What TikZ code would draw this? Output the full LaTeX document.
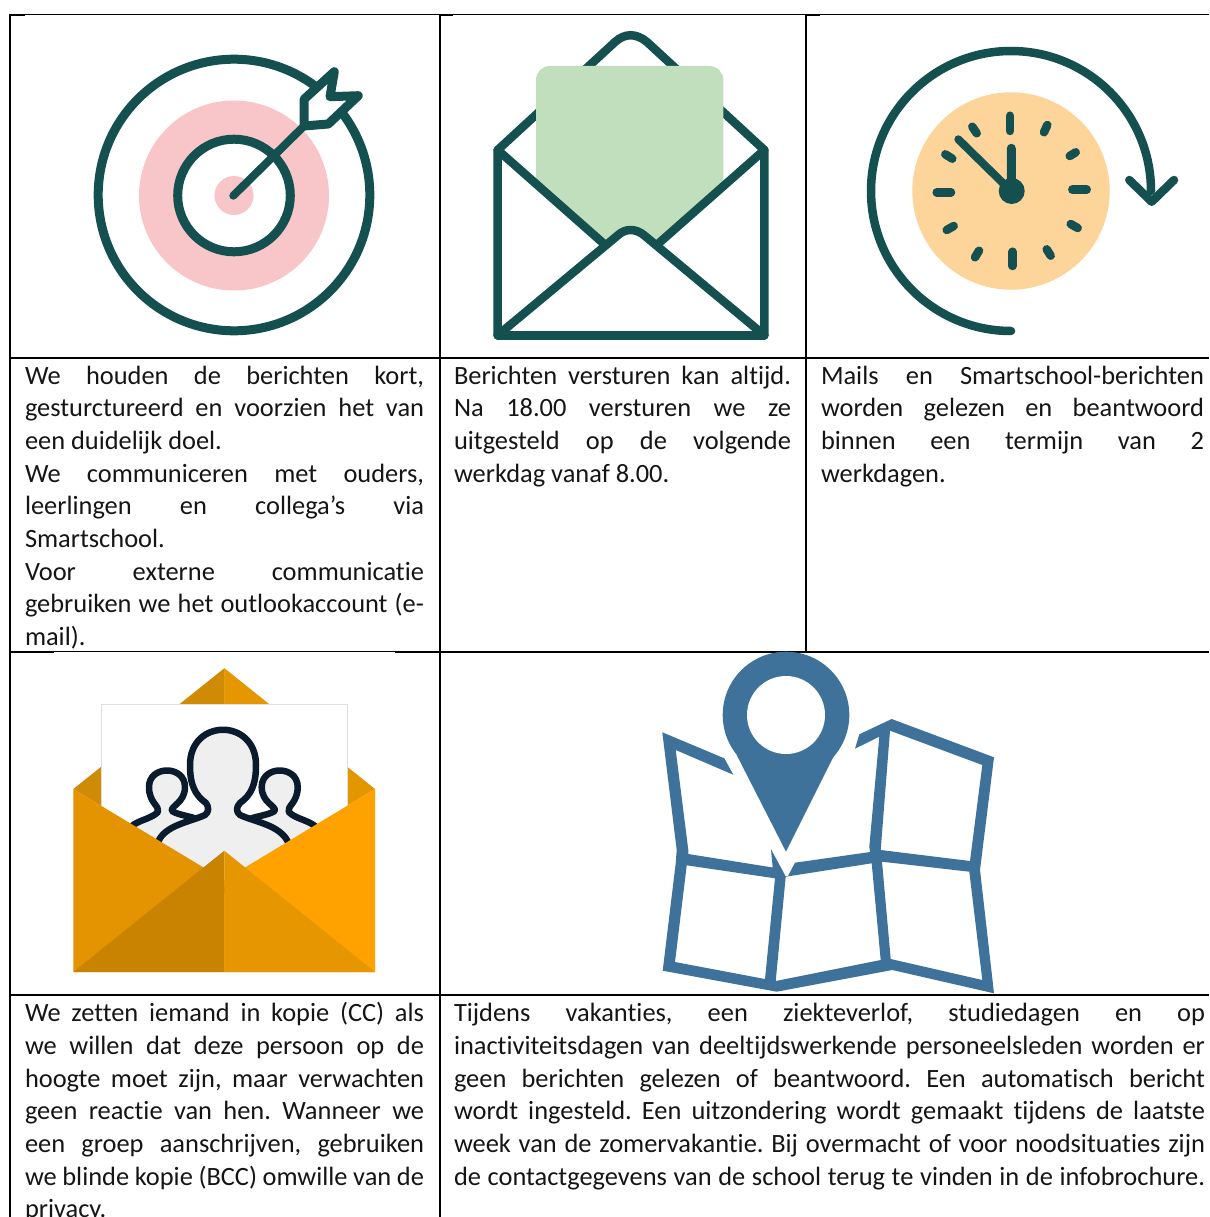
\documentclass[tikz,border=0pt]{standalone}
\usepackage{fontspec}
\setmainfont{Carlito}[Ligatures={NoCommon}]
\definecolor{teal1}{HTML}{14504F}
\definecolor{pinkf}{HTML}{F8C6C8}
\definecolor{greenf}{HTML}{C1DFBC}
\definecolor{orangef}{HTML}{FDD59B}
\definecolor{mapblue}{HTML}{3F729B}
\definecolor{ink}{HTML}{151515}
\definecolor{navy}{HTML}{0B1B2E}
\definecolor{faceg}{HTML}{EFEFF0}
\definecolor{envA}{HTML}{E39400}
\definecolor{envB}{HTML}{FFA200}
\definecolor{envC}{HTML}{C98300}
\definecolor{envD}{HTML}{E69700}
\definecolor{backL}{HTML}{CF8A06}
\definecolor{backR}{HTML}{E29600}
\tikzset{
 grid/.style={line width=2pt,black},
 thingrid/.style={line width=1.2pt,black},
 icon/.style={teal1,line width=8.5pt,line cap=round,line join=round},
 tick/.style={teal1,line width=8.5pt,line cap=round},
 person/.style={draw=navy,fill=faceg,line width=6.5pt,line join=round},
 cell/.style={anchor=north west,inner sep=0pt,outer sep=0pt,text=ink},
}
\newcommand{\jl}[2]{\hbox to #1{\strut #2}}
\newcommand{\tl}[1]{\hbox{\strut #1}}
\newcommand{\cellfont}{\fontsize{26.4}{32.7}\selectfont\frenchspacing\hbadness=10000\hfuzz=20pt\baselineskip=32.7pt\lineskip=0pt\def\strut{\vrule width 0pt height 24pt depth 8.7pt}}
\begin{document}
\begin{tikzpicture}[x=1pt,y=-1pt]
\useasboundingbox (0,0) rectangle (1209,1217);
\fill[white] (0,0) rectangle (1209,1217);
% grid
\draw[thingrid] (10,14.7) -- (1209,14.7);
\draw[grid] (10,15) -- (25,15) (440,15) -- (453,15) (806,15) -- (820,15);
\draw[grid] (10,357.5) -- (1209,357.5);
\draw[thingrid] (54,651.7) -- (395,651.7);
\draw[grid] (10,652) -- (54,652) (395,652) -- (1209,652);
\draw[grid] (10,994.7) -- (1209,994.7);
\draw[grid] (10.3,14) -- (10.3,1217);
\draw[grid] (440,14) -- (440,1217);
\draw[grid] (806,14) -- (806,652);
% target
\fill[pinkf] (234,195.5) circle (95);
\fill[white] (234,195.5) circle (56);
\fill[pinkf] (234,195.5) circle (19.5);
\draw[icon,line width=9pt] (234,195) circle (135.8);
\draw[icon,line width=9pt] (234,195.5) circle (56.3);
\draw[icon,line width=8pt] (233.3,195.7) -- (304,126);
\draw[icon,line width=9pt,fill=white] (304,126) -- (304,99.3) -- (334.3,71.7) -- (330,96.7) -- (358.3,95.7) -- (328.3,124) -- cycle;
% open envelope
\draw[icon] (497.7,150) -- (615,42) .. controls (625,33) and (636,33) .. (647,42) -- (764.3,150);
\fill[greenf] (536,184) -- (536,80) .. controls (536,72) and (542,66) .. (550,66) -- (709,66) .. controls (717,66) and (723.3,72) .. (723.3,80) -- (723.3,182) -- (657,240) -- (630,232) -- (605,242) -- cycle;
\draw[icon] (497.7,335.3) -- (497.7,150) -- (603,243);
\draw[icon] (764.3,335.3) -- (764.3,150) -- (659,243);
\draw[icon] (497.7,335.3) -- (764.3,335.3);
\draw[icon] (497.7,335.3) -- (617,236) .. controls (625,228) and (636,228) .. (645,236) -- (764.3,335.3);
% clock
\fill[orangef] (1011,191) circle (98.7);
\draw[icon] (1011,331) arc (90:360:140);
\draw[icon] (1129.3,180) -- (1151.7,201.7) -- (1174,180);
\fill[teal1] (1011.7,191) circle (13);
\draw[icon,line width=9pt] (1011.5,191) -- (1011.3,148.3);
\draw[icon,line width=8pt] (1011,191) -- (958.3,139.3);
\foreach \a/\b/\c/\d in {1010/115.7/1010/131,1012.7/251.7/1012.7/266,1072.3/189.7/1086.7/189.7,936.7/192.3/951/192.3,1047.3/125/1044/132.3,1075.7/152.3/1069.7/156,1070.7/224/1077.7/228,1046.7/249.3/1050.7/255.7,979/250.7/975/257.3,953.7/226/946.7/230,945.3/154.3/952.3/158.7,972.3/126.7/976.7/133.3}
  \draw[tick] (\a,\b) -- (\c,\d);
% orange envelope
\fill[backR] (224.3,668.3) -- (375,789) -- (224.3,880) -- cycle;
\fill[backL] (224.3,668.3) -- (73.3,789) -- (224.3,880) -- cycle;
\fill[envD] (224.3,668.3) -- (270,705) -- (224.3,705) -- cycle;
\fill[white] (101.7,704) rectangle (347.7,900);
\draw[gray!25,line width=0.8pt] (101.7,830) -- (101.7,704) -- (347.7,704) -- (347.7,830);
\begin{scope}
\clip (101.7,704) rectangle (347.7,900);
\draw[person] (128,830) .. controls (135,820) and (150,820) .. (158,812) .. controls (160,806) and (149,803) .. (149,787) .. controls (149,765) and (185,765) .. (185,787) .. controls (185,803) and (170,806) .. (172,811) .. controls (178,815) and (190,816) .. (200,820) -- (200,890) -- (128,890) -- cycle;
\draw[person] (318.7,830) .. controls (311.7,820) and (296.7,820) .. (288.7,812) .. controls (286.7,806) and (297.7,803) .. (297.7,787) .. controls (297.7,765) and (261.7,765) .. (261.7,787) .. controls (261.7,803) and (276.7,806) .. (274.7,811) .. controls (268.7,815) and (256.7,816) .. (246.7,820) -- (246.7,890) -- (318.7,890) -- cycle;
\draw[person] (158,842) .. controls (165,825) and (190,822) .. (205,815) .. controls (209,812) and (209,807) .. (206,803) .. controls (195,795) and (190,785) .. (190,765) .. controls (190,718) and (256,718) .. (256,765) .. controls (256,785) and (251,795) .. (240,803) .. controls (236,807) and (236,812) .. (240,815) .. controls (255,822) and (280,825) .. (288,842) -- (288,890) -- (158,890) -- cycle;
\end{scope}
\fill[envA] (73.3,789) -- (224.3,880) -- (224.3,972) -- (73.3,972) -- cycle;
\fill[envB] (375,789) -- (224.3,880) -- (224.3,972) -- (375,972) -- cycle;
\fill[envC] (224.3,850.7) -- (224.3,972) -- (73.3,972) -- cycle;
\fill[envD] (224.3,850.7) -- (224.3,972) -- (375,972) -- cycle;
% map
\fill[mapblue,even odd rule]
 (662.3,732.3) -- (724.3,758.3) -- (733.3,774.7) -- (675.7,750) -- (688.3,850) -- (688.3,854) -- (772.7,867.5) -- (771,849.3) -- (785.5,876) -- (788,876) -- (795,862.7) -- (870,852) -- (869.3,846.7) -- (879.3,736.7) -- (855,748.7) -- (859.3,734.3) -- (891.7,719) -- (994,757.3) -- (980,870) -- (994,993.3) -- (892.3,970) -- (776.7,991.7) -- (662.7,970.7) -- (675.7,863.3) -- (676.7,850) -- cycle
 (890,730.7) -- (982.3,765) -- (970,861) -- (880.7,850) -- cycle
 (686.7,865.3) -- (775,878.3) -- (765,979) -- (675,962) -- cycle
 (785.7,876.7) -- (871.7,863.3) -- (880.7,960) -- (775.7,981) -- cycle
 (882,861.7) -- (969.3,871.7) -- (982.3,980) -- (890.7,959) -- cycle;
\fill[mapblue] (736.7,755) -- (786,851.7) -- (834.3,755) -- (786,715) -- cycle;
\fill[mapblue] (786,715) circle (63.3);
\fill[white] (786,715) circle (39);
% text
\node[cell] (t1) at (25,360) {\vtop{\cellfont
 \jl{399pt}{We houden de berichten kort,}
 \jl{399pt}{gesturctureerd en voorzien het van}
 \tl{een duidelijk doel.}
 \jl{399pt}{We communiceren met ouders,}
 \jl{399pt}{leerlingen en collega’s via}
 \tl{Smartschool.}
 \jl{399pt}{Voor externe communicatie}
 \jl{399pt}{gebruiken we het outlookaccount (e-}
 \tl{mail).}}};
\node[cell] (t2) at (454,360) {\vtop{\cellfont
 \jl{337pt}{Berichten versturen kan altijd.}
 \jl{337pt}{Na 18.00 versturen we ze}
 \jl{337pt}{uitgesteld op de volgende}
 \tl{werkdag vanaf 8.00.}}};
\node[cell] (t3) at (821,360) {\vtop{\cellfont
 \jl{383pt}{Mails en Smartschool-berichten}
 \jl{383pt}{worden gelezen en beantwoord}
 \jl{383pt}{binnen een termijn van 2}
 \tl{werkdagen.}}};
\node[cell] (t4) at (25,997.7) {\vtop{\cellfont
 \jl{399pt}{We zetten iemand in kopie (CC) als}
 \jl{399pt}{we willen dat deze persoon op de}
 \jl{399pt}{hoogte moet zijn, maar verwachten}
 \jl{399pt}{geen reactie van hen. Wanneer we}
 \jl{399pt}{een groep aanschrijven, gebruiken}
 \jl{399pt}{we blinde kopie (BCC) omwille van de}
 \tl{privacy.}}};
\node[cell] (t5) at (454,997.7) {\vtop{\cellfont
 \jl{751pt}{Tijdens vakanties, een ziekteverlof, studiedagen en op}
 \jl{751pt}{inactiviteitsdagen van deeltijdswerkende personeelsleden worden er}
 \jl{751pt}{geen berichten gelezen of beantwoord. Een automatisch bericht}
 \jl{751pt}{wordt ingesteld. Een uitzondering wordt gemaakt tijdens de laatste}
 \jl{751pt}{week van de zomervakantie. Bij overmacht of voor noodsituaties zijn}
 \jl{751pt}{de contactgegevens van de school terug te vinden in de infobrochure.}}};
\end{tikzpicture}
\end{document}
